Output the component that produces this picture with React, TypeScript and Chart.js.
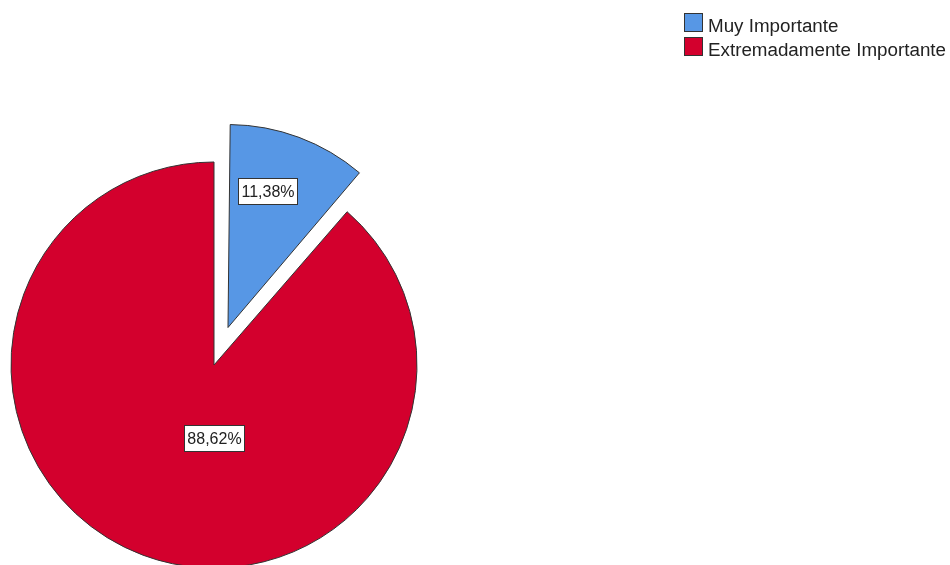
import { useEffect, useRef } from 'react';
import { Chart, registerables } from 'chart.js';

Chart.register(...registerables);

const categories = ['Muy Importante', 'Extremadamente Importante'];
const percentages = [11.38, 88.62];
const sliceColors = ['#5797E5', '#D3002D'];
const explodeOffsets = [160, 0];
const labelAngleFrac = [0.39, 0.436];
const labelRadiusFrac = [0.7, 0.36];

const FONT = '"Liberation Sans", Arial, sans-serif';

const fmt = (v: number) => v.toFixed(2).replace('.', ',') + '%';

const explodeFix = {
  id: 'explodeFix',
  beforeDatasetsDraw(chart: any) {
    const meta = chart.getDatasetMeta(0);
    const baseR = meta.controller.outerRadius;
    meta.data.forEach((arc: any) => {
      const o = (arc.options && arc.options.offset) || 0;
      const circ = arc.endAngle - arc.startAngle;
      const fix = 1 - Math.sin(Math.min(Math.PI, circ));
      arc.outerRadius = baseR - (o / 4) * fix;
    });
  },
};

const sliceLabels = {
  id: 'sliceLabels',
  afterDatasetsDraw(chart: any) {
    const ctx = chart.ctx as CanvasRenderingContext2D;
    const meta = chart.getDatasetMeta(0);
    const baseR = meta.controller.outerRadius;
    const values = chart.data.datasets[0].data as number[];
    ctx.save();
    ctx.font = `16px ${FONT}`;
    ctx.textAlign = 'center';
    ctx.textBaseline = 'middle';
    meta.data.forEach((arc: any, i: number) => {
      const o = ((arc.options && arc.options.offset) || 0) / 4;
      const half = (arc.startAngle + arc.endAngle) / 2;
      const cx = arc.x + Math.cos(half) * o;
      const cy = arc.y + Math.sin(half) * o;
      const a = arc.startAngle + labelAngleFrac[i] * (arc.endAngle - arc.startAngle);
      const r = baseR * labelRadiusFrac[i];
      const x = cx + Math.cos(a) * r;
      const y = cy + Math.sin(a) * r;
      const text = fmt(values[i]);
      const w = ctx.measureText(text).width + 6;
      const h = 26;
      const bx = Math.round(x - w / 2) + 0.5;
      const by = Math.round(y - h / 2) + 0.5;
      ctx.fillStyle = '#ffffff';
      ctx.fillRect(bx, by, Math.round(w), h);
      ctx.strokeStyle = '#333333';
      ctx.lineWidth = 1;
      ctx.strokeRect(bx, by, Math.round(w), h);
      ctx.fillStyle = '#222222';
      ctx.fillText(text, bx + Math.round(w) / 2, by + h / 2 + 1);
    });
    ctx.restore();
  },
};

const customLegend = {
  id: 'customLegend',
  afterDraw(chart: any) {
    const ctx = chart.ctx as CanvasRenderingContext2D;
    const labels = chart.data.labels as string[];
    const colors = chart.data.datasets[0].backgroundColor as string[];
    ctx.save();
    ctx.font = `18.8px ${FONT}`;
    ctx.textAlign = 'left';
    ctx.textBaseline = 'alphabetic';
    labels.forEach((lab, i) => {
      const y = 13 + i * 24;
      ctx.fillStyle = colors[i];
      ctx.fillRect(684.5, y + 0.5, 18, 18);
      ctx.strokeStyle = '#333333';
      ctx.lineWidth = 1;
      ctx.strokeRect(684.5, y + 0.5, 18, 18);
      ctx.fillStyle = '#222222';
      ctx.fillText(lab, 708, y + 19);
    });
    ctx.restore();
  },
};

export default function App() {
  const ref = useRef<HTMLCanvasElement | null>(null);
  useEffect(() => {
    if (!ref.current) return;
    const chart = new Chart(ref.current, {
      type: 'pie',
      data: {
        labels: categories,
        datasets: [
          {
            data: percentages,
            backgroundColor: sliceColors,
            borderColor: '#333333',
            borderWidth: 1,
            borderJoinStyle: 'miter',
            offset: explodeOffsets,
            clip: false,
          } as any,
        ],
      },
      options: {
        responsive: false,
        animation: false,
        events: [],
        radius: 203,
        layout: { padding: { left: 0, right: 522, top: 165, bottom: 0 } },
        plugins: {
          legend: { display: false },
          tooltip: { enabled: false },
        },
      } as any,
      plugins: [explodeFix, sliceLabels, customLegend],
    });
    return () => chart.destroy();
  }, []);
  return (
    <div style={{ position: 'absolute', left: 0, top: 0, width: 950, height: 565, background: '#fff' }}>
      <canvas ref={ref} width={950} height={565} style={{ width: 950, height: 565 }} />
    </div>
  );
}
